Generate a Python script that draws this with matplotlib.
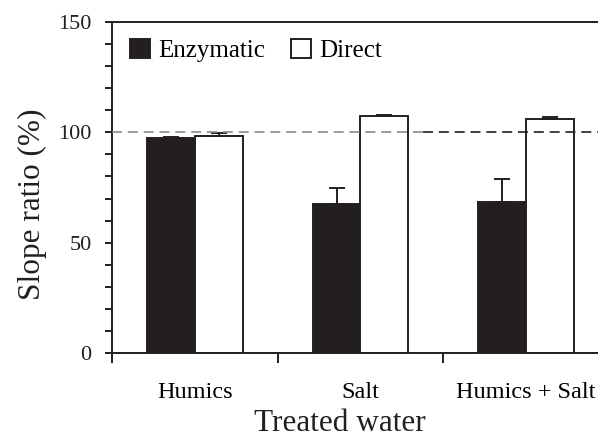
import numpy as np
import matplotlib
matplotlib.use('Agg')
import matplotlib.pyplot as plt
from matplotlib.ticker import MultipleLocator, FixedLocator, NullFormatter

plt.rcParams['font.family'] = ['Liberation Serif', 'DejaVu Serif']

# slope ratios (%) and upper error for each treated water
groups = ['Humics', 'Salt', 'Humics + Salt']
enzymatic = [97.5, 67.5, 68.4]
enzymatic_err = [0.5, 7.4, 10.6]
direct = [98.4, 107.3, 105.8]
direct_err = [1.4, 0.5, 1.2]

ink = '#231f20'

fig = plt.figure(figsize=(5.98, 4.41), dpi=100)
ax = fig.add_axes([0.1881, 0.1989, 0.8294, 0.752])

x = np.arange(len(groups))
w = 0.29
ax.bar(x - 0.145, enzymatic, w, color=ink, edgecolor=ink, linewidth=1.4,
       label='Enzymatic', zorder=2)
ax.bar(x + 0.145, direct, w, color='white', edgecolor=ink, linewidth=1.4,
       label='Direct', zorder=2)
ax.errorbar(x - 0.145, enzymatic, yerr=[np.zeros(3), enzymatic_err], fmt='none',
            ecolor=ink, elinewidth=1.4, capsize=6, capthick=1.4, zorder=3)
ax.errorbar(x + 0.145, direct, yerr=[np.zeros(3), direct_err], fmt='none',
            ecolor=ink, elinewidth=1.4, capsize=5.5, capthick=1.4, zorder=3)

# 100 % reference line
ax.plot([-0.5, 1.376], [100, 100], color='#8a8a8a', lw=1.2, dashes=(6, 3.5), zorder=4)
ax.plot([1.376, 2.5], [100, 100], color=ink, lw=1.2, dashes=(6, 3.5), zorder=4)

ax.set_xlim(-0.5, 2.5)
ax.set_ylim(0, 150)

ax.xaxis.set_major_locator(FixedLocator([-0.5, 0.5, 1.5, 2.5]))
ax.xaxis.set_major_formatter(NullFormatter())
ax.xaxis.set_minor_locator(FixedLocator(x))
ax.set_xticklabels(groups, minor=True, fontsize=17.5)
ax.tick_params(axis='x', which='major', direction='out', length=7, width=1.4, colors=ink)
ax.tick_params(axis='x', which='minor', length=0, pad=21)

ax.yaxis.set_major_locator(MultipleLocator(50))
ax.yaxis.set_minor_locator(MultipleLocator(10))
ax.tick_params(axis='y', which='both', direction='out', length=5, width=1.4,
               labelsize=16, pad=10, colors=ink)

for s in ['left', 'bottom', 'top', 'right']:
    ax.spines[s].set_linewidth(1.4)
    ax.spines[s].set_color(ink)

ax.set_xlabel('Treated water', fontsize=22.5, color=ink)
ax.set_ylabel('Slope ratio (%)', fontsize=22.5, color=ink)
ax.xaxis.set_label_coords(0.4587, -0.168)
ax.yaxis.set_label_coords(-0.132, 0.45)

ax.legend(loc='upper left', bbox_to_anchor=(0.035, 0.948), ncol=2, frameon=False,
          fontsize=18, handlelength=0.8, handleheight=0.8, handletextpad=0.33,
          columnspacing=1.05, borderpad=0, borderaxespad=0)

fig.savefig('out.png', dpi=100)
